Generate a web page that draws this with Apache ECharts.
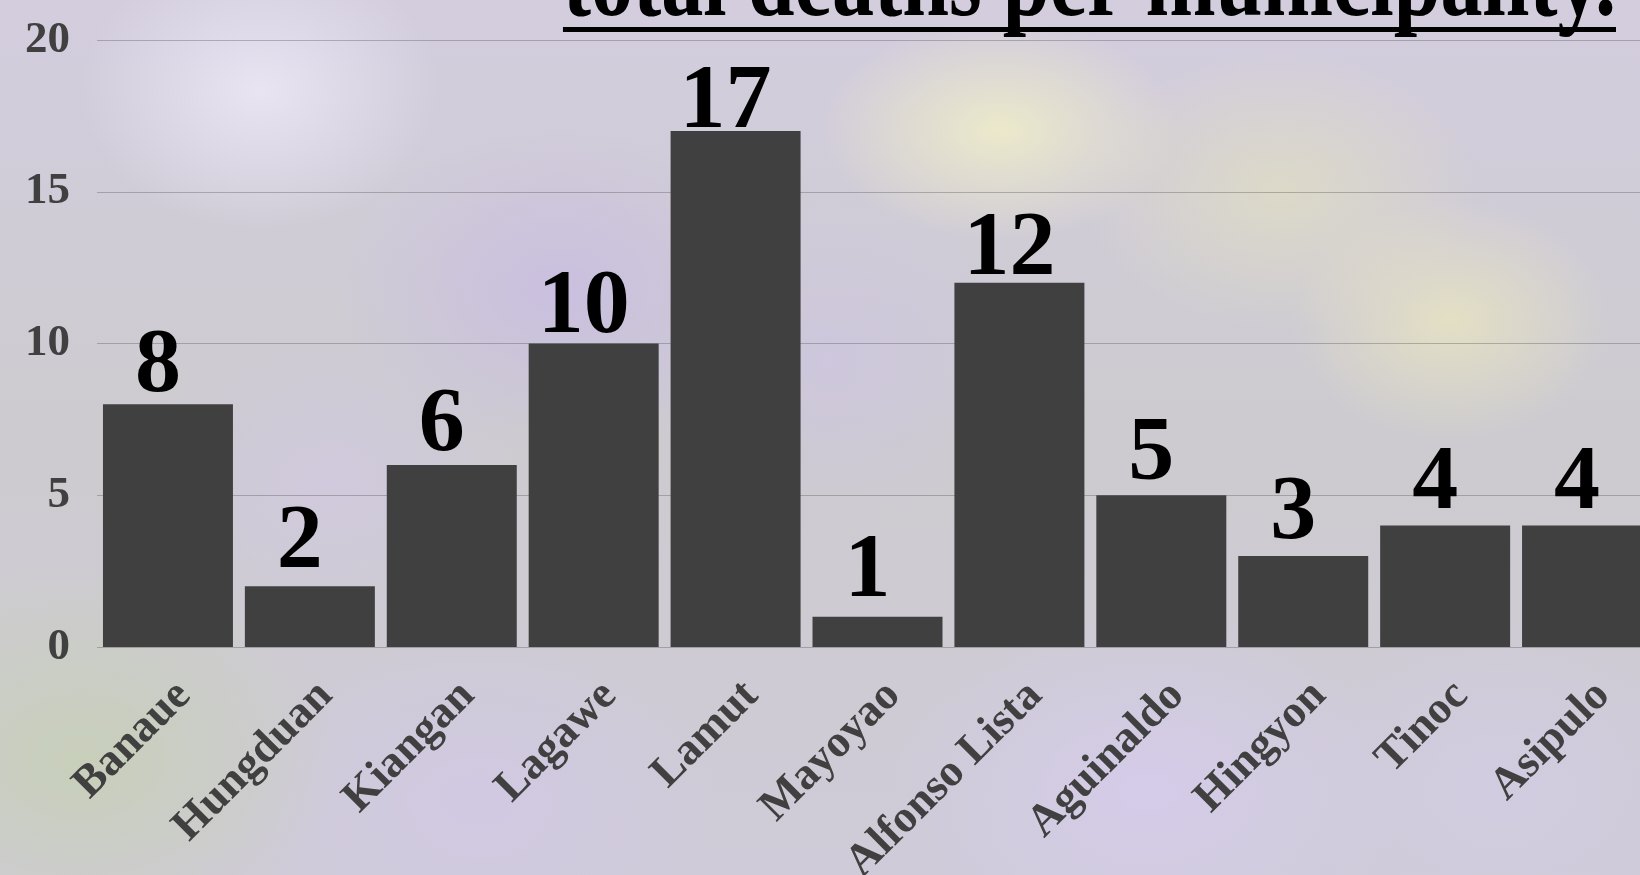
<!DOCTYPE html>
<html>
<head>
<meta charset="utf-8">
<script src="https://cdn.jsdelivr.net/npm/echarts@6/dist/echarts.min.js"></script>
<style>
html,body{margin:0;padding:0;width:1640px;height:875px;overflow:hidden;}
body{
  background:
    radial-gradient(ellipse 180px 110px at 1000px 130px, rgba(240,238,200,0.85), rgba(240,238,200,0) 100%),
    radial-gradient(ellipse 160px 120px at 1450px 320px, rgba(236,232,190,0.7), rgba(236,232,190,0) 100%),
    radial-gradient(ellipse 200px 140px at 1280px 190px, rgba(228,226,190,0.6), rgba(228,226,190,0) 100%),
    radial-gradient(ellipse 180px 140px at 260px 90px, rgba(238,234,248,0.8), rgba(238,234,248,0) 100%),
    radial-gradient(ellipse 260px 200px at 80px 760px, rgba(198,208,178,0.8), rgba(198,208,178,0) 100%),
    radial-gradient(ellipse 220px 160px at 560px 290px, rgba(200,188,226,0.8), rgba(200,188,226,0) 100%),
    radial-gradient(ellipse 200px 160px at 830px 360px, rgba(205,195,228,0.6), rgba(205,195,228,0) 100%),
    radial-gradient(ellipse 260px 180px at 1150px 790px, rgba(214,204,238,0.8), rgba(214,204,238,0) 100%),
    radial-gradient(ellipse 240px 170px at 480px 800px, rgba(210,200,232,0.7), rgba(210,200,232,0) 100%),
    radial-gradient(ellipse 220px 160px at 1500px 780px, rgba(212,204,232,0.6), rgba(212,204,232,0) 100%),
    radial-gradient(ellipse 200px 150px at 330px 480px, rgba(210,200,230,0.6), rgba(210,200,230,0) 100%),
    linear-gradient(180deg, #d3cdde 0%, #cdcbcf 50%, #cfcbd8 100%);
}
#chart{width:1640px;height:875px;}
</style>
</head>
<body>
<div id="chart"></div>
<script>
const categories = ['Banaue','Hungduan','Kiangan','Lagawe','Lamut','Mayoyao','Alfonso Lista','Aguinaldo','Hingyon','Tinoc','Asipulo'];
const deaths = [8, 2, 6, 10, 17, 1, 12, 5, 3, 4, 4];
const titleText = 'total deaths per municipality.';
const yTicks = {min: 0, max: 20, interval: 5};

const chart = echarts.init(document.getElementById('chart'));

const titleFont = 'bold 104px "Liberation Serif"';
const titleScaleX = 0.81;
const mc = document.createElement('canvas').getContext('2d');
mc.font = titleFont;
const titleW = mc.measureText(titleText).width * titleScaleX;
const titleRight = 1616;

chart.setOption({
  backgroundColor: 'transparent',
  animation: false,
  grid: {left: 97, width: 1561, top: 40, bottom: 228, containLabel: false, outerBoundsMode: 'none'},
  xAxis: {
    type: 'category',
    data: categories,
    axisLine: {show: false},
    axisTick: {show: false},
    axisLabel: {
      rotate: 45,
      interval: 0,
      margin: 26,
      color: '#404040',
      fontFamily: 'Liberation Serif',
      fontWeight: 'bold',
      fontSize: 45,
      verticalAlign: 'top',
      hideOverlap: false
    }
  },
  yAxis: {
    type: 'value',
    min: yTicks.min, max: yTicks.max, interval: yTicks.interval,
    axisLine: {show: false},
    axisTick: {show: false},
    splitLine: {lineStyle: {color: 'rgba(80,80,80,0.35)', width: 1}},
    axisLabel: {
      margin: 27,
      color: '#404040',
      fontFamily: 'Liberation Serif',
      fontWeight: 'bold',
      fontSize: 45
    }
  },
  series: [{
    type: 'bar',
    data: deaths.map(v => ({value: v, label: {distance: (yTicks.max - v) - 21}})),
    barCategoryGap: '8.4%',
    itemStyle: {color: '#404040'},
    label: {
      show: true,
      position: 'top',
      offset: [-10, 0],
      color: '#000',
      fontFamily: 'Liberation Serif',
      fontWeight: 'bold',
      fontSize: 92
    }
  }],
  graphic: [
    {type: 'text', x: titleRight, y: -12, scaleX: titleScaleX, z: 100,
      style: {text: titleText, font: titleFont, fill: '#000', align: 'right', verticalAlign: 'middle'}},
    {type: 'rect', z: 100, shape: {x: titleRight - titleW, y: 27, width: titleW, height: 5}, style: {fill: '#000'}}
  ]
});
</script>
</body>
</html>
